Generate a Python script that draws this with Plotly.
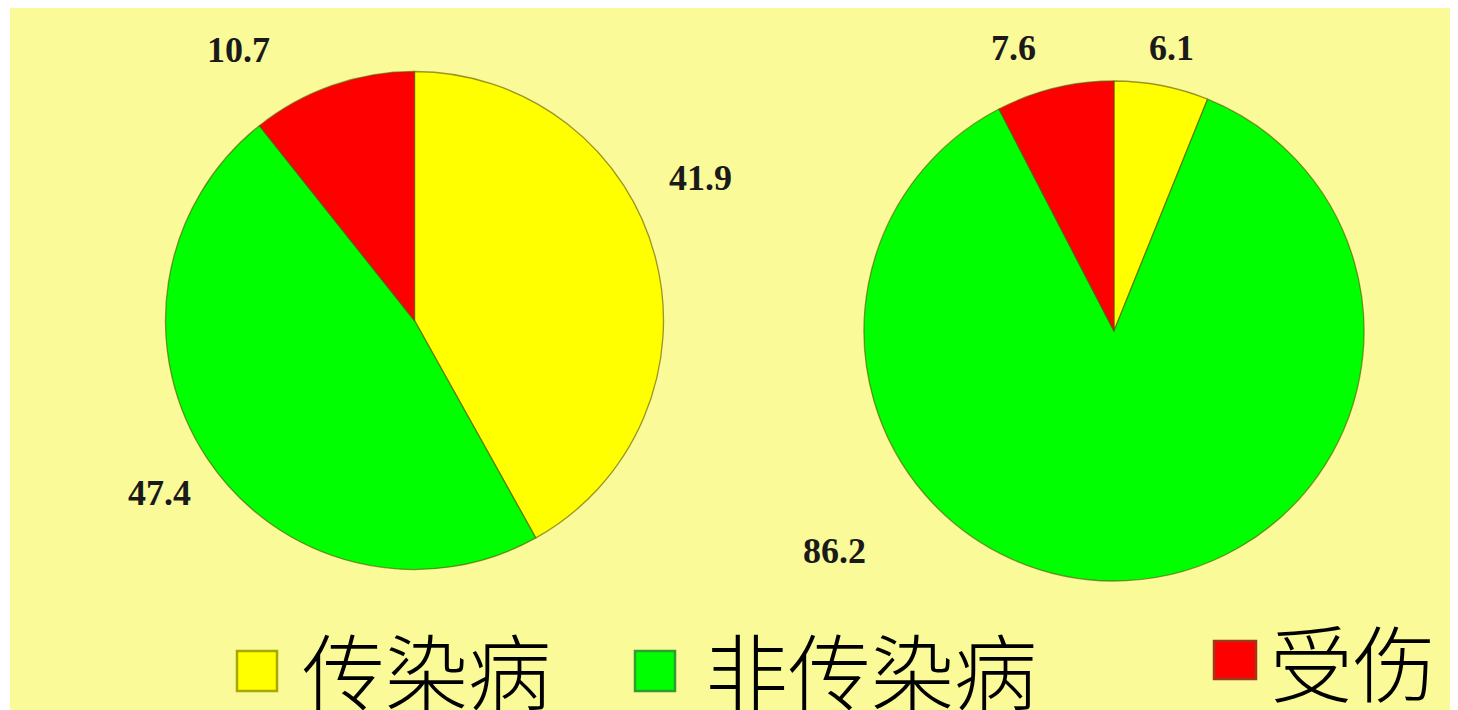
import plotly.graph_objects as go

# page is offset by the body margin (8px), so figure is sized to fill the remaining window
OFF = 8
W, H = 1458 - OFF, 710 - OFF

categories = ["传染病", "非传染病", "受伤"]
left_values = [41.9, 47.4, 10.7]
right_values = [6.1, 86.2, 7.6]
colors = ["#FFFF00", "#00FF00", "#FF0000"]
edge_colors = ["#A8A800", "#2E9E2E", "#9E3A1A"]

BG = "#FAFA98"

def px_x(x):
    return (x - OFF) / W

def px_y(y):
    return 1 - (y - OFF) / H

def pie_domain(cx, cy, r):
    return dict(x=[px_x(cx - r), px_x(cx + r)], y=[px_y(cy + r), px_y(cy - r)])

fig = go.Figure()

for vals, (cx, cy, r) in [(left_values, (414.5, 320.5, 249)), (right_values, (1114, 331, 250))]:
    fig.add_trace(go.Pie(
        labels=categories,
        values=vals,
        sort=False,
        direction="clockwise",
        rotation=0,
        textinfo="none",
        hoverinfo="label+value",
        showlegend=False,
        marker=dict(colors=colors, line=dict(color="rgba(90,80,0,0.6)", width=1.3)),
        domain=pie_domain(cx, cy, r),
    ))

# value label positions (page pixel centres), one per slice, same order as categories
left_label_pos = [(700, 178), (159, 493), (238, 50)]
right_label_pos = [(1171, 48), (834, 551), (1013, 48)]

annotations = []
for vals, poss in [(left_values, left_label_pos), (right_values, right_label_pos)]:
    for v, (x, y) in zip(vals, poss):
        annotations.append(dict(
            x=px_x(x), y=px_y(y), xref="paper", yref="paper",
            text=f"{v:.1f}", showarrow=False, xanchor="center", yanchor="middle",
            font=dict(family="Liberation Serif", size=36, color="#1a1a1a", weight="bold"),
        ))

# custom legend (page pixels)
legend_boxes = [(237, 651, 277, 691), (635, 651, 675, 691), (1214, 641, 1256, 679)]
legend_text_pos = [(300, 668), (703, 668), (1268, 660)]
shapes = [dict(type="rect", xref="paper", yref="paper", x0=px_x(10), x1=1.01, y0=-0.01, y1=1.01,
               fillcolor=BG, line=dict(width=0), layer="below")]
for cat, col, ec, (x0, y0, x1, y1), (tx, ty) in zip(categories, colors, edge_colors, legend_boxes, legend_text_pos):
    shapes.append(dict(type="rect", xref="paper", yref="paper",
                       x0=px_x(x0), x1=px_x(x1), y0=px_y(y1), y1=px_y(y0),
                       fillcolor=col, line=dict(color=ec, width=2.5)))
    annotations.append(dict(
        x=px_x(tx), y=px_y(ty), xref="paper", yref="paper", text=cat, showarrow=False,
        xanchor="left", yanchor="middle",
        font=dict(family="Noto Sans CJK SC", size=83, color="#000000", weight=200),
    ))

fig.update_layout(
    width=W, height=H,
    margin=dict(l=0, r=0, t=0, b=0),
    paper_bgcolor="#FFFFFF",
    shapes=shapes,
    annotations=annotations,
    showlegend=False,
)

fig.write_html("out.html")
